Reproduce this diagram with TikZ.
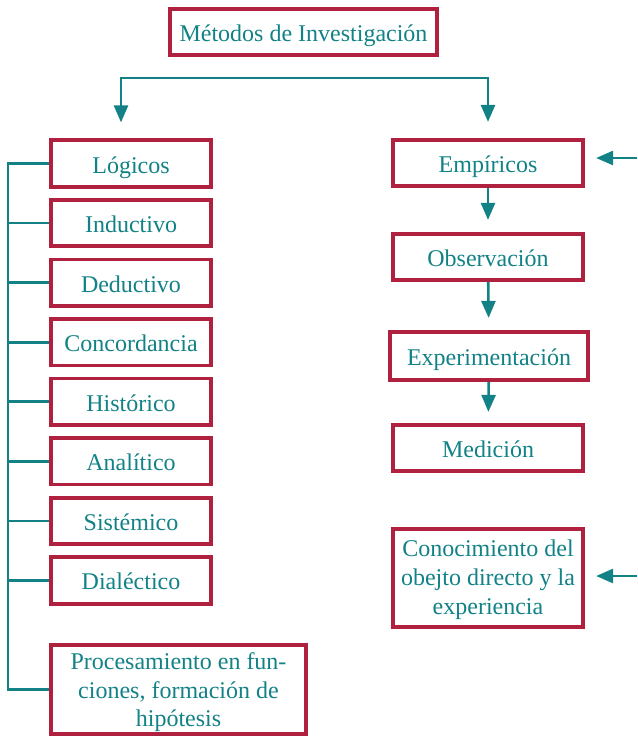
\documentclass[tikz,border=0pt]{standalone}
\usepackage{fontspec}
\setmainfont{Liberation Serif}
\usetikzlibrary{arrows.meta}
\definecolor{tealc}{RGB}{18,130,134}
\definecolor{redc}{RGB}{176,33,63}
\tikzset{
  box/.style={draw=redc, line width=3.7pt, fill=white, text=tealc, inner sep=0pt,
    font=\fontsize{24}{28.5}\selectfont, align=center},
  one/.style={box, text height=21pt, text depth=2pt},
  ln/.style={draw=tealc, line width=2.6pt},
  arr/.style={ln, -{Triangle[length=17pt,width=14pt]}},
}
\begin{document}
\begin{tikzpicture}[x=1pt,y=-1pt]
\useasboundingbox (0,0) rectangle (637,736);
% title
\node[one, minimum width=267.5pt, minimum height=46.5pt] (T) at (303.5,32) {Métodos de Investigación};
% left column
\foreach \n/\t [count=\k from 0] in {Log/Lógicos,Ind/Inductivo,Ded/Deductivo,Con/Concordancia,His/Histórico,Ana/Analítico,Sis/Sistémico,Dia/Dialéctico}{
  \node[one, minimum width=160.5pt, minimum height=46.5pt] (\n) at (131,{163.5+59.57*\k}) {\t};
}
\node[box, minimum width=255.5pt, minimum height=89.5pt] (Pro) at (178.5,689.5) {\rule{0pt}{23pt}Procesamiento en fun-\\ciones, formación de\\hipótesis};
% right column
\node[one, minimum width=190.5pt, minimum height=46.5pt] (Emp) at (488,163) {Empíricos};
\node[one, minimum width=190.5pt, minimum height=46.5pt] (Obs) at (488,257) {Observación};
\node[one, minimum width=198.5pt, minimum height=48.5pt] (Exp) at (489,356) {Experimentación};
\node[one, minimum width=190.5pt, minimum height=46.5pt] (Med) at (488,448) {Medición};
\node[box, minimum width=190.5pt, minimum height=98.5pt, font=\fontsize{24}{29}\selectfont] (Cono) at (488,578) {\rule{0pt}{21pt}Conocimiento del\\obejto directo y la\\experiencia};
% top branch
\coordinate (brL) at (121,78);
\coordinate (brR) at (488,78);
\draw[ln, line cap=rect] (brL) -- (brR);
\draw[arr, shorten >=16pt] (brL) -- (brL |- Log.north);
\draw[arr, shorten >=16pt] (brR) -- (Emp.north);
% left spine
\coordinate (sp) at (8,0);
\draw[ln] (Log.west) -- (Log.west -| sp) -- (Pro.west -| sp) -- (Pro.west);
\foreach \n in {Ind,Ded,Con,His,Ana,Sis,Dia}{
  \draw[ln] (\n.west) -- (\n.west -| sp);
}
% right chain
\draw[arr, shorten >=12pt] (Emp) -- (Obs);
\draw[arr, shorten >=12pt] (Obs) -- (Exp);
\draw[arr, shorten >=11pt] (Exp) -- (Med);
% side arrows
\coordinate (s1) at (637,158);
\coordinate (s2) at (637,576);
\draw[arr, shorten >=11pt] (s1) -- (s1 -| Emp.east);
\draw[arr, shorten >=11pt] (s2) -- (s2 -| Cono.east);
\end{tikzpicture}
\end{document}
